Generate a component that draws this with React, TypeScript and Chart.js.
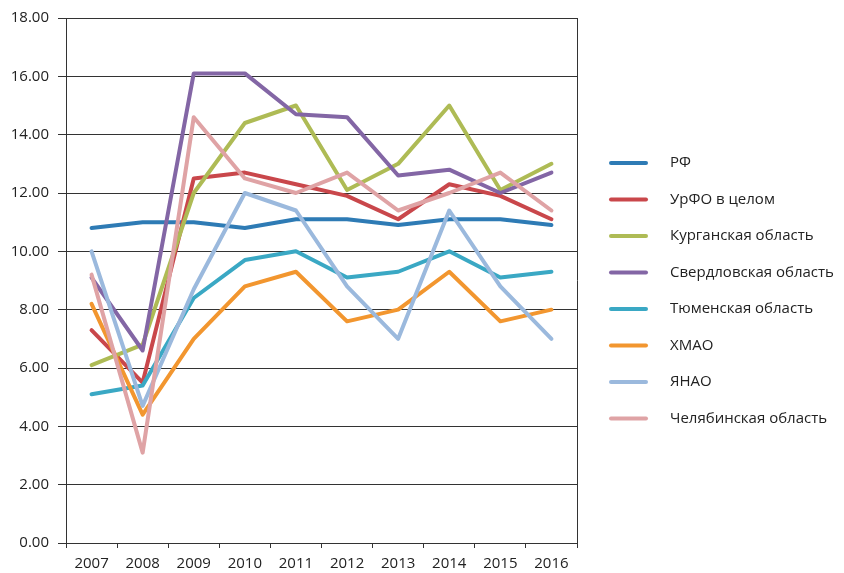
import React, { useEffect, useRef } from "react";
import { Chart, registerables } from "chart.js";

Chart.register(...registerables);

const years = ["2007", "2008", "2009", "2010", "2011", "2012", "2013", "2014", "2015", "2016"];

const seriesNames = [
  "РФ",
  "УрФО в целом",
  "Курганская область",
  "Свердловская область",
  "Тюменская область",
  "ХМАО",
  "ЯНАО",
  "Челябинская область",
];

const rf = [10.8, 11.0, 11.0, 10.8, 11.1, 11.1, 10.9, 11.1, 11.1, 10.9];
const urfo = [7.3, 5.5, 12.5, 12.7, 12.3, 11.9, 11.1, 12.3, 11.9, 11.1];
const kurgan = [6.1, 6.8, 12.0, 14.4, 15.0, 12.1, 13.0, 15.0, 12.1, 13.0];
const sverdl = [9.1, 6.6, 16.1, 16.1, 14.7, 14.6, 12.6, 12.8, 12.0, 12.7];
const tyumen = [5.1, 5.4, 8.4, 9.7, 10.0, 9.1, 9.3, 10.0, 9.1, 9.3];
const hmao = [8.2, 4.4, 7.0, 8.8, 9.3, 7.6, 8.0, 9.3, 7.6, 8.0];
const yanao = [10.0, 4.7, 8.7, 12.0, 11.4, 8.8, 7.0, 11.4, 8.8, 7.0];
const chel = [9.2, 3.1, 14.6, 12.5, 12.0, 12.7, 11.4, 12.0, 12.7, 11.4];

const seriesValues = [rf, urfo, kurgan, sverdl, tyumen, hmao, yanao, chel];

const colors = ["#2E7BB5", "#C9474B", "#AEBB55", "#8366A5", "#3AA8C4", "#F2962F", "#9BB9DD", "#DFA3A5"];

const FONT = "'Open Sans', sans-serif";

const legendPlugin = {
  id: "customLegend",
  afterDraw(chart: any) {
    const ctx = chart.ctx;
    ctx.save();
    chart.data.datasets.forEach((ds: any, i: number) => {
      const y = 163 + i * 36.5;
      ctx.strokeStyle = ds.borderColor;
      ctx.lineWidth = 4;
      ctx.lineCap = "round";
      ctx.beginPath();
      ctx.moveTo(611, y);
      ctx.lineTo(646, y);
      ctx.stroke();
      ctx.fillStyle = "#222";
      ctx.font = "15px " + FONT;
      ctx.textBaseline = "middle";
      ctx.textAlign = "left";
      ctx.fillText(ds.label, 670, y);
    });
    ctx.restore();
  },
};

const framePlugin = {
  id: "frame",
  afterDatasetsDraw(chart: any) {
    const { ctx, chartArea } = chart;
    ctx.save();
    ctx.strokeStyle = "#333";
    ctx.lineWidth = 1;
    ctx.beginPath();
    const r = Math.round(chartArea.right) + 0.5;
    ctx.moveTo(r, chartArea.top);
    ctx.lineTo(r, chartArea.bottom);
    ctx.stroke();
    ctx.restore();
  },
};

export default function App() {
  const ref = useRef<HTMLCanvasElement>(null);
  useEffect(() => {
    if (!ref.current) return;
    const chart = new Chart(ref.current, {
      type: "line",
      data: {
        labels: years,
        datasets: seriesValues.map((vals, i) => ({
          label: seriesNames[i],
          data: vals,
          borderColor: colors[i],
          backgroundColor: colors[i],
          borderWidth: 4,
          pointRadius: 0,
          tension: 0,
          borderJoinStyle: "round" as const,
          borderCapStyle: "round" as const,
          order: seriesValues.length - i,
        })),
      },
      options: {
        responsive: false,
        animation: false,
        layout: { padding: { left: 0, top: 15, right: 267, bottom: 0 } },
        plugins: { legend: { display: false }, tooltip: { enabled: false } },
        scales: {
          x: {
            offset: true,
            grid: {
              offset: true,
              drawOnChartArea: false,
              drawTicks: true,
              tickLength: 5,
              color: "#333",
            },
            border: { display: true, color: "#333", width: 1 },
            ticks: { color: "#222", font: { family: FONT, size: 15 }, padding: 7, maxRotation: 0 },
            afterFit: (s: any) => {
              s.height = 30;
            },
          },
          y: {
            min: 0,
            max: 18,
            grid: { color: "#333", lineWidth: 1, tickLength: 8 },
            border: { display: true, color: "#333", width: 1 },
            ticks: {
              stepSize: 2,
              color: "#222",
              font: { family: FONT, size: 15 },
              padding: 9,
              callback: (v: any) => Number(v).toFixed(2),
            },
            afterFit: (s: any) => {
              s.width = 66;
            },
          },
        },
      },
      plugins: [legendPlugin, framePlugin],
    });
    return () => chart.destroy();
  }, []);
  return (
    <div style={{ position: "fixed", left: 0, top: 0, width: 844, height: 573, background: "#fff" }}>
      <canvas ref={ref} width={844} height={573} style={{ width: 844, height: 573, display: "block" }} />
    </div>
  );
}
